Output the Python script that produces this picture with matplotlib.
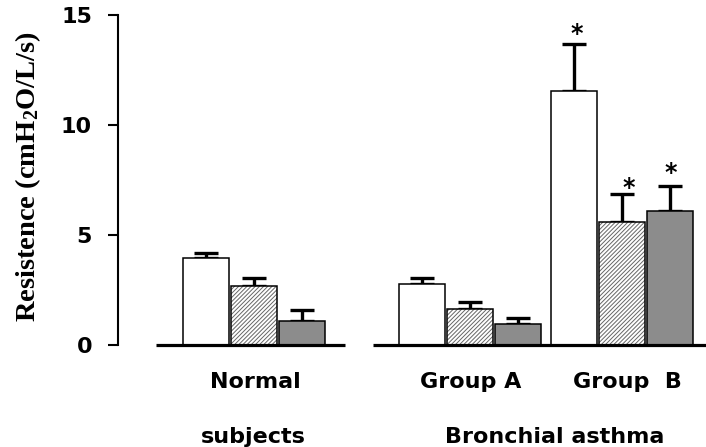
import matplotlib
matplotlib.use("Agg")
import matplotlib.pyplot as plt
import numpy as np

# ---- data ----
groups = ["Normal", "Group A", "Group  B"]
series = ["bar1", "bar2", "bar3"]
means = {
    "Normal":   [3.94, 2.70, 1.10],
    "Group A":  [2.77, 1.62, 0.95],
    "Group  B": [11.55, 5.58, 6.09],
}
errs = {
    "Normal":   [0.25, 0.33, 0.49],
    "Group A":  [0.26, 0.32, 0.29],
    "Group  B": [2.15, 1.28, 1.15],
}
signif = {
    "Normal":   [False, False, False],
    "Group A":  [False, False, False],
    "Group  B": [True, True, True],
}
yticks = [0, 5, 10, 15]

# ---- layout ----
W, H = 706, 447
DPI = 100
plt.rcParams['mathtext.fontset'] = 'custom'
plt.rcParams['mathtext.rm'] = 'Liberation Serif:bold'
plt.rcParams['mathtext.it'] = 'Liberation Serif:bold'
plt.rcParams['mathtext.bf'] = 'Liberation Serif:bold'
plt.rcParams['hatch.linewidth'] = 0.7

fig = plt.figure(figsize=(W / DPI, H / DPI), dpi=DPI)
y0_px, y15_px = 345, 15
ax = fig.add_axes([118 / W, (H - y0_px) / H, 1 - 118 / W, (y0_px - y15_px) / H])

unit = 48.0  # pixels per x unit
ax.set_xlim(0, (W - 118) / unit)
ax.set_ylim(0, 15)

group_start = [1.823, 6.333, 9.5]
bar_w = 46 / 48
faces = ["white", "white", "#8c8c8c"]
hatches = [None, "////////", None]
hatch_col = ["black", "#666666", "black"]

ast_dx = [2.2, 5.0, 0.7]   # points
ast_dy = [2.0, -0.5, 4.0]

for gi, g in enumerate(groups):
    xs = group_start[gi] + np.arange(len(series))
    for si in range(len(series)):
        m = means[g][si]
        e = errs[g][si]
        x = xs[si]
        # error bar (upper only)
        ax.errorbar([x], [m], yerr=[[0], [e]], fmt="none", ecolor="black",
                    elinewidth=2.4, capsize=8.5, capthick=2.4, zorder=1)
        ax.bar([x], [m], width=bar_w, color=faces[si], hatch=hatches[si],
               edgecolor=hatch_col[si], linewidth=0, zorder=2)
        ax.bar([x], [m], width=bar_w, fill=False, edgecolor="black",
               linewidth=1.1, zorder=3)
        if signif[g][si]:
            ax.annotate("*", xy=(x, m + e), xytext=(ast_dx[si], ast_dy[si]),
                        textcoords="offset points", ha="center", va="baseline",
                        fontsize=17, fontweight="bold", family="DejaVu Sans",
                        annotation_clip=False)

# baselines
ax.plot([(156 - 118) / unit, (345 - 118) / unit], [0, 0], color="black",
        lw=2.3, clip_on=False, zorder=4, solid_capstyle="butt")
ax.plot([(373 - 118) / unit, (W - 118) / unit], [0, 0], color="black",
        lw=2.3, clip_on=False, zorder=4, solid_capstyle="butt")

for s in ["top", "right", "bottom"]:
    ax.spines[s].set_visible(False)
ax.spines["left"].set_linewidth(1.5)
ax.set_xticks([])
ax.set_yticks(yticks)
ax.set_yticklabels([str(t) for t in yticks], fontsize=16, fontweight="bold",
                   family="DejaVu Sans")
ax.tick_params(axis="y", direction="out", length=7.2, width=1.5, pad=11.5)

# y label
fig.text(28 / W, 1 - 177 / H, r"Resistence (cmH$_\mathrm{2}$O/L/s)", rotation=90,
         ha="center", va="center", fontsize=20.5, fontweight="bold",
         family="Liberation Serif")

# category labels
lab_kw = dict(ha="center", va="baseline", fontsize=16, fontweight="bold",
              family="DejaVu Sans")
top_x = [255, 471, 627]
for gi, g in enumerate(groups):
    fig.text(top_x[gi] / W, 1 - 388 / H, g, **lab_kw)
fig.text(253 / W, 1 - 443 / H, "subjects", **lab_kw)
fig.text(555 / W, 1 - 443 / H, "Bronchial asthma", **lab_kw)

fig.savefig("out.png", dpi=DPI)
